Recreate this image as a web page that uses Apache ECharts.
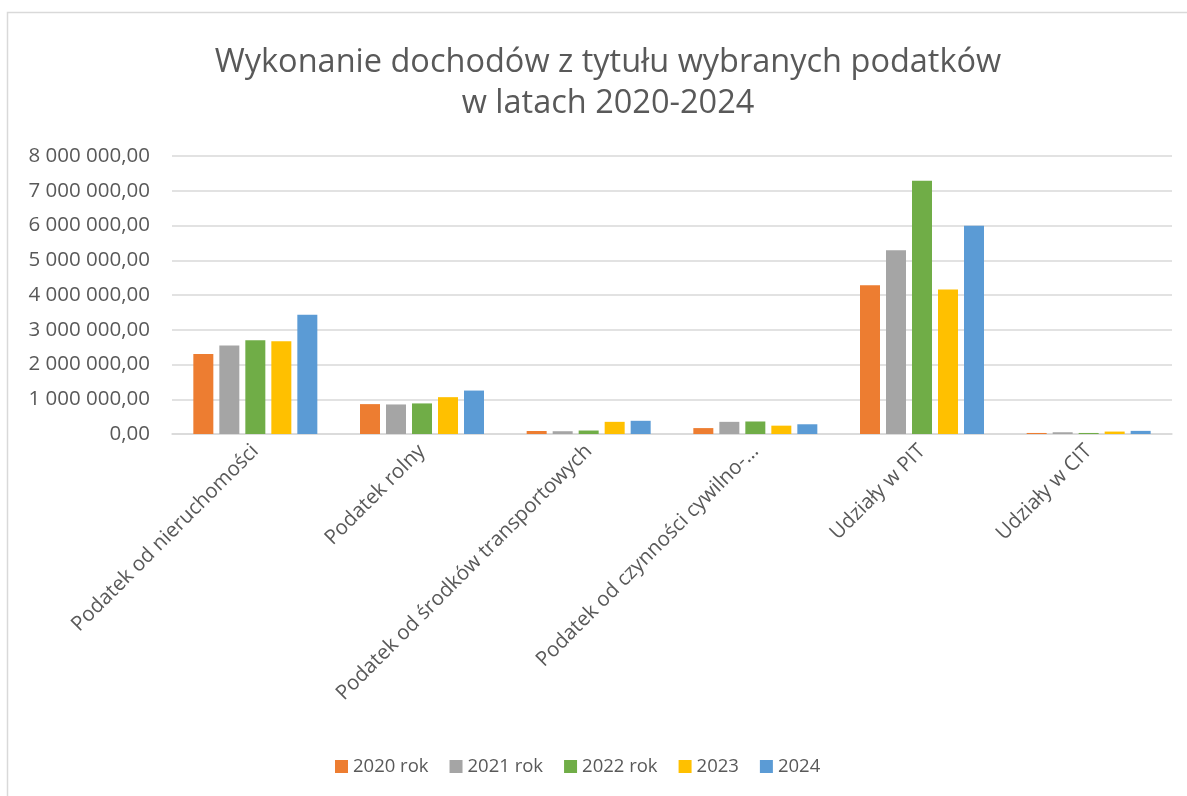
<!DOCTYPE html>
<html><head><meta charset="utf-8">
<script src="https://cdn.jsdelivr.net/npm/echarts@6/dist/echarts.min.js"></script>
<style>html,body{margin:0;padding:0;background:#fff}#c{width:1187px;height:796px}</style>
</head><body><div id="c"></div>
<script>
const categories = ["Podatek od nieruchomości","Podatek rolny","Podatek od środków transportowych","Podatek od czynności cywilno-…","Udziały w PIT","Udziały w CIT"];
const seriesNames = ["2020 rok","2021 rok","2022 rok","2023","2024"];
const v2020 = [2300000, 860000, 86000, 170000, 4280000, 30000];
const v2021 = [2550000, 850000, 80000, 350000, 5290000, 50000];
const v2022 = [2700000, 880000, 100000, 360000, 7290000, 30000];
const v2023 = [2670000, 1060000, 350000, 240000, 4160000, 70000];
const v2024 = [3430000, 1250000, 380000, 280000, 5990000, 90000];
const colors = ["#ED7D31","#A5A5A5","#70AD47","#FFC000","#5B9BD5"];
const allValues = [v2020, v2021, v2022, v2023, v2024];

const font = "'Open Sans', 'Noto Sans', sans-serif";
function fmt(v){
  const s = Math.round(v).toString().replace(/\B(?=(\d{3})+(?!\d))/g, ' ');
  return s + ',00';
}
const chart = echarts.init(document.getElementById('c'), null, {renderer:'canvas'});
chart.setOption({
  animation:false,
  backgroundColor:'#fff',
  title:{text:'Wykonanie dochodów z tytułu wybranych podatków\nw latach 2020-2024', left:603, textAlign:'center', top:37,
    textStyle:{fontFamily:font, fontSize:32.5, fontWeight:'normal', color:'#595959', lineHeight:41}},
  graphic:[{type:'rect', shape:{x:7.5,y:12.5,width:1200,height:800}, style:{fill:'none', stroke:'#d9d9d9', lineWidth:1.5}, silent:true}],
  legend:{bottom:15, left:330, itemWidth:13, itemHeight:13, itemGap:21, icon:'rect',
    textStyle:{fontFamily:font, fontSize:18.5, color:'#595959'}, data:seriesNames},
  grid:{left:172, right:15, top:156, bottom:362, containLabel:false},
  xAxis:{type:'category', data:categories,
    axisLine:{lineStyle:{color:'#d9d9d9', width:1.5}}, axisTick:{show:false},
    axisLabel:{rotate:45, interval:0, margin:14, fontFamily:font, fontSize:20.5, color:'#595959'}},
  yAxis:{type:'value', min:0, max:8000000, interval:1000000,
    axisLine:{show:false}, axisTick:{show:false},
    splitLine:{lineStyle:{color:'#d9d9d9', width:1.5}},
    axisLabel:{formatter:fmt, margin:22, fontFamily:font, fontSize:20.5, color:'#595959'}},
  series: seriesNames.map((n,i)=>({name:n, type:'bar', data:allValues[i], barWidth:20, barGap:'30%',
    itemStyle:{color:colors[i]}}))
});
</script></body></html>
